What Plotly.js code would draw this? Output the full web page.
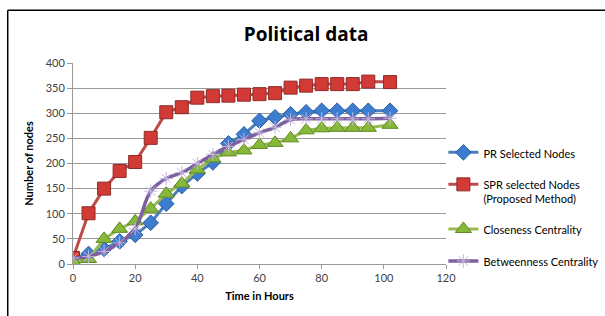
<!DOCTYPE html>
<html>
<head>
<meta charset="utf-8">
<script src="https://cdn.plot.ly/plotly-3.0.1.min.js"></script>
<style>html,body{margin:0;padding:0;background:#fff;}#chart{width:605px;height:316px;}</style>
</head>
<body>
<div id="chart"></div>
<script>
const hours = [0,5,10,15,20,25,30,35,40,45,50,55,60,65,70,75,80,85,90,95,102];
const prNodes = [10,20,30,45,58,82,120,155,180,202,240,258,285,292,298,302,305,305,305,305,305];
const sprNodes = [12,101,150,185,203,251,302,312,331,334,335,337,338,340,351,355,358,358,358,363,362];
const closeness = [5,10,50,70,85,110,140,160,188,210,222,226,237,241,250,266,270,271,271,271,277];
const betweenness = [12,15,25,42,70,145,170,182,200,218,234,248,261,272,287,289,289,289,289,289,290];
const seriesNames = ["PR Selected Nodes","SPR selected Nodes<br>(Proposed Method)","Closeness Centrality","Betweenness Centrality"];
const xTicks = [0,20,40,60,80,100,120];
const yTicks = [0,50,100,150,200,250,300,350,400];

const font = "Lato, 'Open Sans', sans-serif";
const traces = [
  {x: hours, y: prNodes, name: seriesNames[0], mode: "lines+markers", legendgroup: "a",
   line: {color: "#4A7EBB", width: 3},
   marker: {symbol: "diamond", size: 12, color: "#3D7DD0", line: {color: "#2A5D9F", width: 1}}},
  {x: hours, y: sprNodes, name: seriesNames[1], mode: "lines+markers", legendgroup: "b",
   line: {color: "#BE4B48", width: 3},
   marker: {symbol: "square", size: 13, color: "#D23A36", line: {color: "#8E2B28", width: 1}}},
  {x: hours, y: closeness, name: seriesNames[2], mode: "lines+markers", legendgroup: "c",
   line: {color: "#98B954", width: 3},
   marker: {symbol: "triangle-up", size: 14, color: "#86B83A", line: {color: "#5E8A22", width: 1}}},
  {x: hours, y: betweenness, name: seriesNames[3], mode: "lines+markers", legendgroup: "d",
   line: {color: "#7D60A0", width: 3.5, shape: "spline", smoothing: 1},
   marker: {symbol: "asterisk-open", size: 11, color: "#C2B4DC", line: {color: "#C2B4DC", width: 1}}}
];

const layout = {
  width: 605, height: 316,
  margin: {l: 73, r: 159, t: 63, b: 52, autoexpand: false},
  paper_bgcolor: "#fff", plot_bgcolor: "#fff",
  font: {family: font, color: "#333", size: 11},
  title: {text: "<b>Political data</b>", x: 0.506, xref: "container", y: 0.892, yref: "container",
          xanchor: "center", yanchor: "middle", font: {family: "'Open Sans', sans-serif", size: 19, color: "#000"}},
  xaxis: {range: [0, 120], tickvals: xTicks, ticktext: xTicks.map(String), showgrid: false, zeroline: false,
          showline: true, linecolor: "#999", linewidth: 1, ticks: "outside", ticklen: 4, tickcolor: "#999",
          tickfont: {size: 11, color: "#404040", family: font},
          title: {text: "<b>Time in Hours</b>", font: {size: 11, color: "#000", family: font}, standoff: 9}},
  yaxis: {range: [0, 400], tickvals: yTicks, ticktext: yTicks.map(String), showgrid: true, gridcolor: "#999", gridwidth: 1,
          zeroline: false, showline: true, linecolor: "#999", linewidth: 1, ticks: "outside", ticklen: 5, tickcolor: "#999",
          tickfont: {size: 11, color: "#404040", family: font},
          title: {text: "<b>Number of nodes</b>", font: {size: 11, color: "#000", family: font}, standoff: 9}},
  showlegend: true,
  legend: {x: 0.993, xanchor: "left", y: 0.28, yanchor: "middle", bgcolor: "rgba(0,0,0,0)",
           font: {size: 11, color: "#000", family: font}, tracegroupgap: 13, valign: "top", itemwidth: 30},
  shapes: [
    {type: "line", xref: "paper", yref: "paper", x0: -0.175, x1: 1.5, y0: 1.262, y1: 1.262, line: {color: "#000", width: 1.5}},
    {type: "line", xref: "paper", yref: "paper", x0: -0.175, x1: -0.175, y0: 1.262, y1: -0.4, line: {color: "#000", width: 1.5}}
  ]
};
Plotly.newPlot("chart", traces, layout, {displayModeBar: false, staticPlot: true});
</script>
</body>
</html>
